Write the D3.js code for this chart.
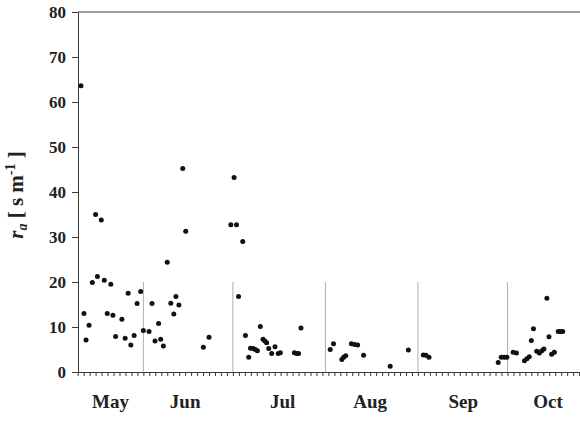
<!DOCTYPE html>
<html>
<head>
<meta charset="utf-8">
<script src="https://cdn.jsdelivr.net/npm/d3@7/dist/d3.min.js"></script>
<style>
  html, body { margin: 0; padding: 0; background: #ffffff; }
  svg { display: block; }
</style>
</head>
<body>
<svg id="chart" width="580" height="422"></svg>
<script>
// Day of year of each observation
const dayOfYear = [
  131.1, 132.1, 132.8, 133.8, 134.9, 136.0, 136.6, 137.9, 138.9, 139.9,
  141.1, 141.8, 142.7, 144.8, 145.9, 146.9, 147.8, 148.9, 149.9, 151.1,
  152.0, 153.9, 154.9, 155.9, 157.1, 157.8, 158.7, 160.0, 161.2, 162.2,
  162.9, 163.9, 165.2, 166.2, 172.1, 174.0,
  181.3, 182.4, 183.2, 183.9, 185.3, 186.2, 187.3, 187.9, 188.8, 189.5,
  190.2, 191.2, 192.1, 192.7, 193.3, 194.0, 195.0, 196.1, 197.2, 197.9,
  202.6, 203.4, 204.0, 204.8,
  214.6, 215.7, 218.5, 219.1, 219.8, 221.7, 222.8, 223.8, 225.8, 234.7, 240.8,
  245.8, 246.7, 247.7,
  270.9, 271.9, 272.9, 273.8, 275.9, 277.0, 279.7, 280.5, 281.3, 282.0,
  282.7, 283.8, 284.7, 285.5, 286.2, 287.2, 287.9, 288.8, 289.7, 291.0,
  291.7, 292.5
];
// Aerodynamic resistance r_a [s m-1]
const raValues = [
  63.6, 13.0, 7.1, 10.4, 19.9, 35.0, 21.2, 33.8, 20.4, 13.0,
  19.5, 12.6, 7.9, 11.7, 7.5, 17.5, 6.0, 8.1, 15.2, 17.9,
  9.2, 9.0, 15.2, 6.9, 10.8, 7.3, 5.8, 24.4, 15.3, 12.9,
  16.8, 14.9, 45.2, 31.3, 5.5, 7.7,
  32.7, 43.2, 32.7, 16.8, 29.0, 8.1, 3.3, 5.3, 5.2, 5.0,
  4.7, 10.1, 7.3, 6.9, 6.5, 5.2, 4.1, 5.6, 4.1, 4.3,
  4.3, 4.1, 4.1, 9.8,
  5.0, 6.3, 2.8, 3.3, 3.6, 6.3, 6.1, 6.0, 3.7, 1.3, 4.9,
  3.8, 3.7, 3.3,
  2.1, 3.3, 3.3, 3.3, 4.4, 4.2, 2.5, 2.95, 3.4, 7.0,
  9.6, 4.6, 4.2, 4.75, 5.1, 16.4, 7.85, 3.95, 4.4, 9.0,
  9.0, 9.0
];
const yTicks = [0, 10, 20, 30, 40, 50, 60, 70, 80];
const monthNames = ["May", "Jun", "Jul", "Aug", "Sep", "Oct"];
const monthLabelDay = [141.0, 166.0, 198.7, 228.0, 259.2, 287.6];
const monthStartDay = [152, 182, 213, 244, 274];
const dayDomain = [130.1, 298.3];
const yDomain = [0, 80];
const dividerTop = 20;

(function () {
const svg = d3.select("#chart");
const mLeft = 78, mRight = 580, mTop = 12, mBottom = 372;
const x = d3.scaleLinear().domain(dayDomain).range([mLeft, mRight]);
const y = d3.scaleLinear().domain(yDomain).range([mBottom, mTop]);

const axisColor = "#3a3a3a";
const serif = "'Liberation Serif', 'Times New Roman', serif";

// top frame line
svg.append("line")
  .attr("x1", mLeft).attr("x2", mRight)
  .attr("y1", y(80)).attr("y2", y(80))
  .attr("stroke", axisColor).attr("stroke-width", 1);

// month dividers
svg.append("g").selectAll("line").data(monthStartDay).join("line")
  .attr("x1", d => x(d)).attr("x2", d => x(d))
  .attr("y1", y(dividerTop)).attr("y2", y(0))
  .attr("stroke", "#9a9a9a").attr("stroke-width", 0.8);

// x axis with minor ticks every 2 days
const xTickValues = d3.range(130, 299, 2);
const gx = svg.append("g").attr("transform", `translate(0,${mBottom})`)
  .call(d3.axisBottom(x).tickValues(xTickValues).tickSize(4).tickSizeOuter(0).tickFormat(""));
gx.selectAll("path, line").attr("stroke", axisColor).attr("stroke-width", 1);

// y axis
const gy = svg.append("g").attr("transform", `translate(${mLeft},0)`)
  .call(d3.axisLeft(y).tickValues(yTicks).tickSize(6).tickSizeOuter(0).tickPadding(6));
gy.selectAll("path, line").attr("stroke", axisColor).attr("stroke-width", 1);
gy.selectAll("text")
  .attr("font-family", serif).attr("font-weight", "bold")
  .attr("font-size", 17).attr("fill", "#222");

// month labels
svg.append("g").selectAll("text").data(monthNames).join("text")
  .attr("x", (d, i) => x(monthLabelDay[i]))
  .attr("y", 408)
  .attr("text-anchor", "middle")
  .attr("font-family", serif).attr("font-weight", "bold")
  .attr("font-size", 19).attr("fill", "#222")
  .text(d => d);

// y axis title
const yt = svg.append("text")
  .attr("transform", "translate(23,195) rotate(-90)")
  .attr("text-anchor", "middle")
  .attr("font-family", serif).attr("font-weight", "bold")
  .attr("font-size", 21).attr("fill", "#222");
yt.append("tspan").attr("font-style", "italic").text("r");
yt.append("tspan").attr("font-style", "italic").attr("font-size", 14).attr("dy", 4).text("a");
yt.append("tspan").attr("dy", -4).text("  [ s m");
yt.append("tspan").attr("font-size", 14).attr("dy", -8).text("-1");
yt.append("tspan").attr("dy", 8).text(" ]");

// points
const pts = dayOfYear.map((d, i) => ({ d, v: raValues[i] }));
svg.append("g").selectAll("circle").data(pts).join("circle")
  .attr("cx", p => x(p.d)).attr("cy", p => y(p.v))
  .attr("r", 2.5).attr("fill", "#111");
})();
</script>
</body>
</html>
